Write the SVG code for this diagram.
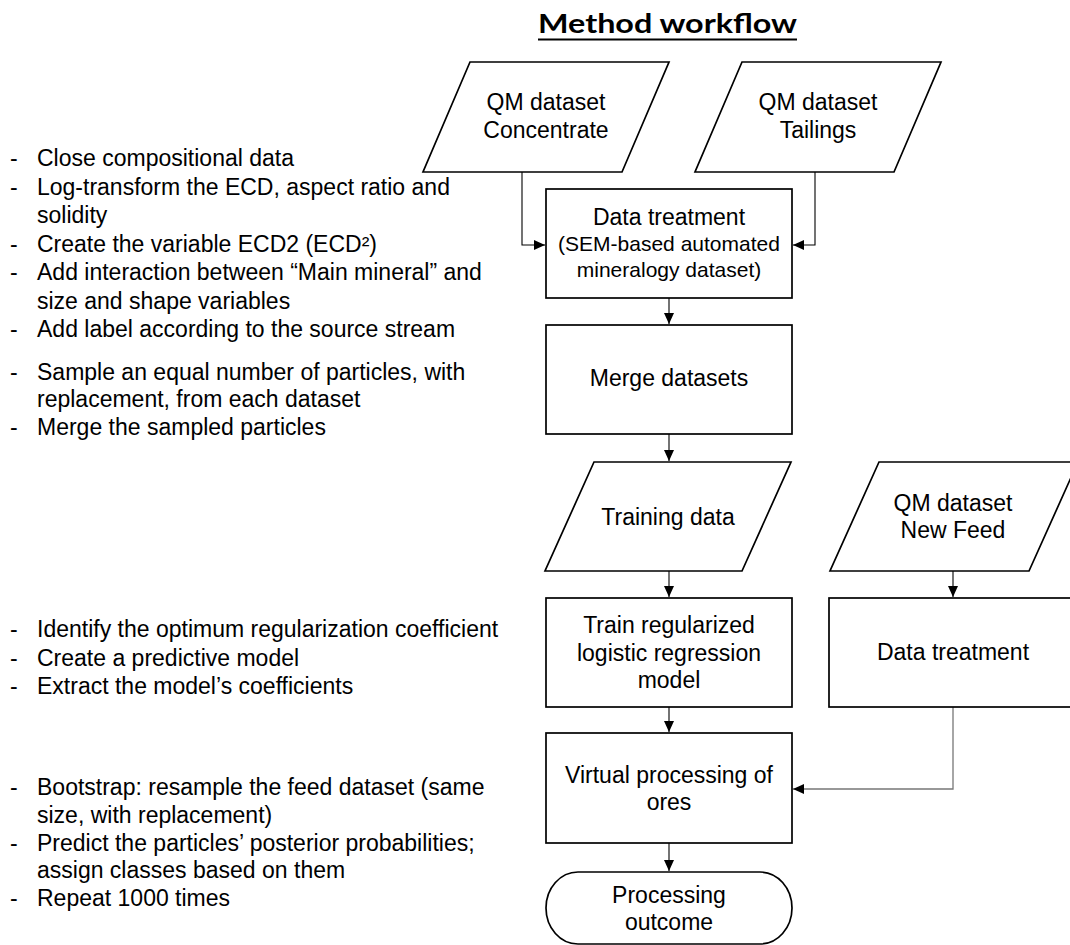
<svg xmlns="http://www.w3.org/2000/svg" width="1070" height="945" viewBox="0 0 1070 945">
<style>
.shape{fill:#fff;stroke:#000;stroke-width:1.7}
.lbl{font-family:"Liberation Sans",Arial,sans-serif;font-size:23px;fill:#000;text-anchor:middle}
.note{font-family:"Liberation Sans",Arial,sans-serif;font-size:23px;fill:#000}
.conn{fill:none;stroke:#000;stroke-width:1.1}
.conn2{fill:none;stroke:#777;stroke-width:1.3}
.title{font-family:Lato,"Open Sans",sans-serif;font-weight:bold;font-size:26px;fill:#000;text-anchor:middle}
</style>
<defs>
<marker id="ah" markerUnits="userSpaceOnUse" markerWidth="12" markerHeight="11" refX="11" refY="5" orient="auto">
<path d="M0,0 L11,5 L0,10 z" fill="#000"/>
</marker>
</defs>
<rect width="1070" height="945" fill="#fff"/>
<g id="title">
<text class="title" x="667.5" y="33" textLength="259" lengthAdjust="spacingAndGlyphs">Method workflow</text>
<line x1="538" y1="39.5" x2="797" y2="39.5" stroke="#000" stroke-width="2"/>
</g>
<g id="notes">
<g class="note">
<text x="10" y="166">-</text><text x="37" y="166">Close compositional data</text>
<text x="10" y="195">-</text><text x="37" y="195">Log-transform the ECD, aspect ratio and</text>
<text x="37" y="223">solidity</text>
<text x="10" y="252">-</text><text x="37" y="252">Create the variable ECD2 (ECD²)</text>
<text x="10" y="280">-</text><text x="37" y="280">Add interaction between “Main mineral” and</text>
<text x="37" y="309">size and shape variables</text>
<text x="10" y="337">-</text><text x="37" y="337">Add label according to the source stream</text>
<text x="10" y="380">-</text><text x="37" y="380">Sample an equal number of particles, with</text>
<text x="37" y="407">replacement, from each dataset</text>
<text x="10" y="435">-</text><text x="37" y="435">Merge the sampled particles</text>
<text x="10" y="637">-</text><text x="37" y="637">Identify the optimum regularization coefficient</text>
<text x="10" y="666">-</text><text x="37" y="666">Create a predictive model</text>
<text x="10" y="694">-</text><text x="37" y="694">Extract the model’s coefficients</text>
<text x="10" y="795">-</text><text x="37" y="795">Bootstrap: resample the feed dataset (same</text>
<text x="37" y="823">size, with replacement)</text>
<text x="10" y="851">-</text><text x="37" y="851">Predict the particles’ posterior probabilities;</text>
<text x="37" y="878">assign classes based on them</text>
<text x="10" y="906">-</text><text x="37" y="906">Repeat 1000 times</text>
</g>
</g>
<g id="connectors">
<path class="conn" d="M522,172 V245 H545" marker-end="url(#ah)"/>
<path class="conn" d="M815,172 V245 H793" marker-end="url(#ah)"/>
<path class="conn" d="M669,298 V324" marker-end="url(#ah)"/>
<path class="conn" d="M669,434 V461" marker-end="url(#ah)"/>
<path class="conn" d="M669,571 V597" marker-end="url(#ah)"/>
<path class="conn" d="M953,571 V597" marker-end="url(#ah)"/>
<path class="conn" d="M669,707 V732" marker-end="url(#ah)"/>
<path class="conn2" d="M953,707 V789 H793" marker-end="url(#ah)"/>
<path class="conn" d="M669,843 V871" marker-end="url(#ah)"/>
</g>
<g id="qm-concentrate">
<polygon class="shape" points="470,62 669,62 622,172 423,172"/>
<text class="lbl" x="546" y="110">QM dataset</text>
<text class="lbl" x="546" y="138">Concentrate</text>
</g>
<g id="qm-tailings">
<polygon class="shape" points="742,62 941,62 894,172 695,172"/>
<text class="lbl" x="818" y="110">QM dataset</text>
<text class="lbl" x="818" y="138">Tailings</text>
</g>
<g id="data-treatment-1">
<rect class="shape" x="546" y="189" width="246" height="109"/>
<text class="lbl" x="669" y="225">Data treatment</text>
<text class="lbl" x="669" y="251" style="font-size:21px">(SEM-based automated</text>
<text class="lbl" x="669" y="277" style="font-size:21px">mineralogy dataset)</text>
</g>
<g id="merge">
<rect class="shape" x="546" y="325" width="246" height="109"/>
<text class="lbl" x="669" y="386">Merge datasets</text>
</g>
<g id="training-data">
<polygon class="shape" points="594,462 791,462 742,571 545,571"/>
<text class="lbl" x="668" y="525">Training data</text>
</g>
<g id="qm-newfeed">
<polygon class="shape" points="879,462 1078,462 1029,571 830,571"/>
<text class="lbl" x="953" y="511">QM dataset</text>
<text class="lbl" x="953" y="538">New Feed</text>
</g>
<g id="train-model">
<rect class="shape" x="546" y="598" width="246" height="109"/>
<text class="lbl" x="669" y="633">Train regularized</text>
<text class="lbl" x="669" y="661">logistic regression</text>
<text class="lbl" x="669" y="688">model</text>
</g>
<g id="data-treatment-2">
<rect class="shape" x="829" y="598" width="250" height="109"/>
<text class="lbl" x="953" y="660">Data treatment</text>
</g>
<g id="virtual-processing">
<rect class="shape" x="546" y="733" width="246" height="110"/>
<text class="lbl" x="669" y="783">Virtual processing of</text>
<text class="lbl" x="669" y="810">ores</text>
</g>
<g id="outcome">
<path class="shape" d="M578,872 H760 A32,36 0 0 1 760,944 H578 A32,36 0 0 1 578,872 Z"/>
<text class="lbl" x="669" y="903">Processing</text>
<text class="lbl" x="669" y="930">outcome</text>
</g>
</svg>
